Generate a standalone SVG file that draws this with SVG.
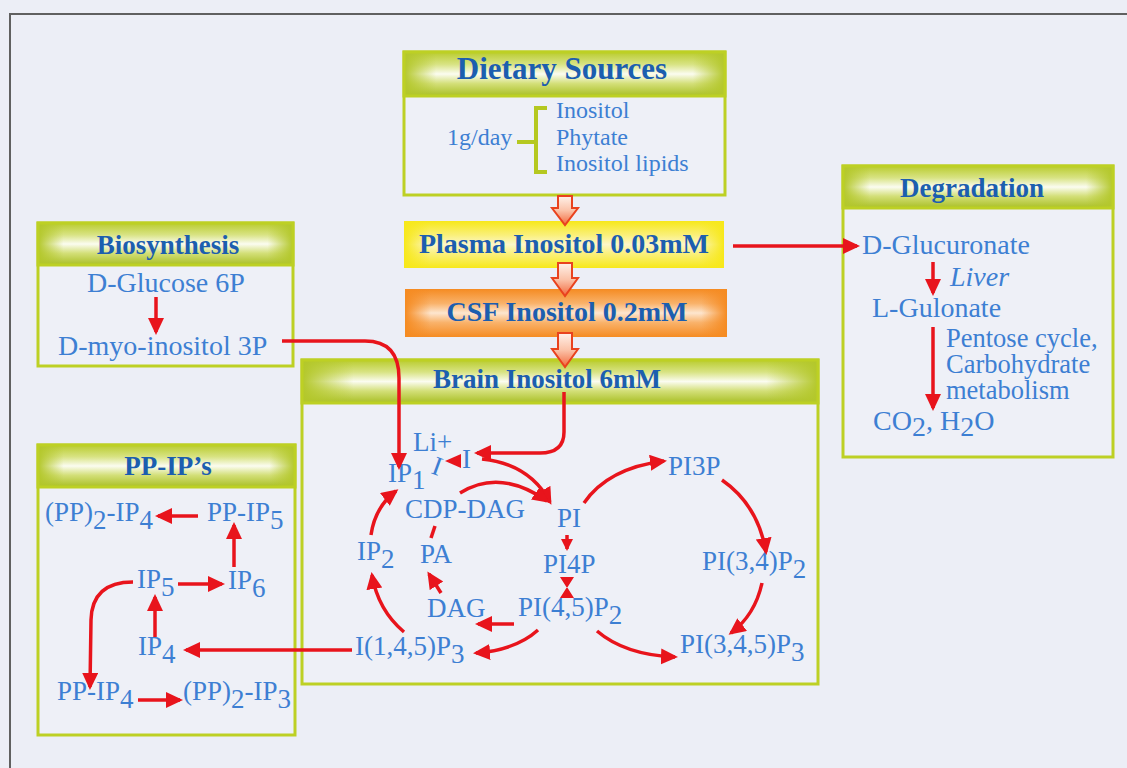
<svg xmlns="http://www.w3.org/2000/svg" width="1127" height="768" viewBox="0 0 1127 768">
<defs>
<style>
.t{font-family:"Liberation Serif","Times New Roman",serif;font-size:27px;fill:#3d7fd3}
.d{font-size:24px}
.b{font-size:28px}
.s{font-size:26.5px}
.i{font-style:italic}
.h{font-family:"Liberation Serif","Times New Roman",serif;font-weight:bold;font-size:27px;fill:#1c5eaf;text-anchor:middle}
.body{fill:#eef0f7;stroke:#bdd024;stroke-width:3}
.hdr{stroke:#bdd024;stroke-width:3}
.ln{fill:none;stroke:#e8141c;stroke-width:3.5}
.hol{fill:url(#hg);stroke:#e9421e;stroke-width:2}
</style>
<linearGradient id="hv" x1="0" y1="0" x2="0" y2="1">
<stop offset="0" stop-color="#b9cc2e"/><stop offset="0.28" stop-color="#d8e383"/><stop offset="0.5" stop-color="#fbfcf0"/><stop offset="0.72" stop-color="#d3df78"/><stop offset="1" stop-color="#a9bf25"/>
</linearGradient>
<linearGradient id="hh" x1="0" y1="0" x2="1" y2="0">
<stop offset="0" stop-color="#b3c72a" stop-opacity="1"/><stop offset="0.1" stop-color="#b3c72a" stop-opacity="0"/><stop offset="0.9" stop-color="#b3c72a" stop-opacity="0"/><stop offset="1" stop-color="#b3c72a" stop-opacity="1"/>
</linearGradient>
<linearGradient id="pv" x1="0" y1="0" x2="0" y2="1">
<stop offset="0" stop-color="#f7e81a"/><stop offset="0.3" stop-color="#faf07a"/><stop offset="0.5" stop-color="#fcf7c8"/><stop offset="0.7" stop-color="#faf07a"/><stop offset="1" stop-color="#f7e81a"/>
</linearGradient>
<linearGradient id="ph" x1="0" y1="0" x2="1" y2="0">
<stop offset="0" stop-color="#f7e81a" stop-opacity="1"/><stop offset="0.08" stop-color="#f7e81a" stop-opacity="0"/><stop offset="0.92" stop-color="#f7e81a" stop-opacity="0"/><stop offset="1" stop-color="#f7e81a" stop-opacity="1"/>
</linearGradient>
<linearGradient id="cv" x1="0" y1="0" x2="0" y2="1">
<stop offset="0" stop-color="#f58b22"/><stop offset="0.3" stop-color="#f9b26a"/><stop offset="0.5" stop-color="#fde6cf"/><stop offset="0.7" stop-color="#f9b26a"/><stop offset="1" stop-color="#f58b22"/>
</linearGradient>
<linearGradient id="ch" x1="0" y1="0" x2="1" y2="0">
<stop offset="0" stop-color="#f58b22" stop-opacity="1"/><stop offset="0.08" stop-color="#f58b22" stop-opacity="0"/><stop offset="0.92" stop-color="#f58b22" stop-opacity="0"/><stop offset="1" stop-color="#f58b22" stop-opacity="1"/>
</linearGradient>
<linearGradient id="hg" x1="0" y1="0" x2="0" y2="1">
<stop offset="0" stop-color="#fff2ea"/><stop offset="0.5" stop-color="#fbc2a8"/><stop offset="1" stop-color="#f2683c"/>
</linearGradient>
<marker id="ah" markerUnits="userSpaceOnUse" markerWidth="20" markerHeight="18" refX="14" refY="8" orient="auto">
<path d="M0,0 L17,8 L0,16 z" fill="#e8141c"/>
</marker>
<marker id="as" markerUnits="userSpaceOnUse" markerWidth="14" markerHeight="14" refX="10" refY="6" orient="auto">
<path d="M0,0 L12,6 L0,12 z" fill="#e8141c"/>
</marker>
</defs>

<rect x="0" y="0" width="1127" height="768" fill="#eceef6"/>
<path d="M10,768 V14 H1127" fill="none" stroke="#606060" stroke-width="2"/>

<g id="dietary">
<rect class="body" x="404" y="52" width="321" height="143"/>
<rect x="404" y="52" width="321" height="44" fill="url(#hv)"/>
<rect class="hdr" x="404" y="52" width="321" height="44" fill="url(#hh)"/>
<text class="h" x="562" y="79" style="font-size:31px">Dietary Sources</text>
<text class="t d" x="447" y="145">1g/day</text>
<path d="M517,142 H535 M547,108 H536 V172 H547" fill="none" stroke="#b5c820" stroke-width="4"/>
<text class="t d" x="556" y="118">Inositol</text>
<text class="t d" x="556" y="145">Phytate</text>
<text class="t d" x="556" y="171">Inositol lipids</text>
</g>

<g id="plasma">
<rect x="404" y="221" width="320" height="47" fill="url(#pv)"/>
<rect x="404" y="221" width="320" height="47" fill="url(#ph)"/>
<text class="h" x="564" y="253" style="font-size:28px">Plasma Inositol 0.03mM</text>
</g>

<g id="csf">
<rect x="405" y="289" width="322" height="48" fill="url(#cv)"/>
<rect x="405" y="289" width="322" height="48" fill="url(#ch)"/>
<text class="h" x="567" y="321" style="font-size:28px">CSF Inositol 0.2mM</text>
</g>

<g id="biosynthesis">
<rect class="body" x="38" y="223" width="255" height="143"/>
<rect x="38" y="223" width="255" height="42" fill="url(#hv)"/>
<rect class="hdr" x="38" y="223" width="255" height="42" fill="url(#hh)"/>
<text class="h" x="168" y="254">Biosynthesis</text>
<text class="t b" x="87" y="292">D-Glucose 6P</text>
<text class="t b" x="58" y="355">D-myo-inositol 3P</text>
</g>

<g id="degradation">
<rect class="body" x="843" y="166" width="270" height="291"/>
<rect x="843" y="166" width="270" height="42" fill="url(#hv)"/>
<rect class="hdr" x="843" y="166" width="270" height="42" fill="url(#hh)"/>
<text class="h" x="972" y="197">Degradation</text>
<text class="t b" x="862" y="254">D-Glucuronate</text>
<text class="t b i" x="950" y="286">Liver</text>
<text class="t b" x="872" y="317">L-Gulonate</text>
<text class="t s" x="946" y="347">Pentose cycle,</text>
<text class="t s" x="946" y="373">Carbohydrate</text>
<text class="t s" x="946" y="399">metabolism</text>
<text class="t b" x="873" y="430">CO<tspan dy="6">2</tspan><tspan dy="-6">, H</tspan><tspan dy="6">2</tspan><tspan dy="-6">O</tspan></text>
</g>

<g id="brain">
<rect class="body" x="302" y="360" width="516" height="324"/>
<rect x="302" y="360" width="516" height="43" fill="url(#hv)"/>
<rect class="hdr" x="302" y="360" width="516" height="43" fill="url(#hh)"/>
<text class="h" x="547" y="388">Brain Inositol 6mM</text>
<text class="t" x="413" y="451">Li+</text>
<text class="t" x="0" y="0" transform="translate(430,473) rotate(20)">I</text>
<text class="t" x="462" y="468">I</text>
<text class="t" x="388" y="482">IP<tspan dy="7">1</tspan></text>
<text class="t" x="405" y="518">CDP-DAG</text>
<text class="t" x="557" y="527">PI</text>
<text class="t" x="357" y="560">IP<tspan dy="8">2</tspan></text>
<text class="t" x="420" y="563">PA</text>
<text class="t" x="543" y="573">PI4P</text>
<text class="t" x="427" y="617">DAG</text>
<text class="t" x="518" y="616">PI(4,5)P<tspan dy="8">2</tspan></text>
<text class="t" x="355" y="655">I(1,4,5)P<tspan dy="8">3</tspan></text>
<text class="t" x="668" y="475">PI3P</text>
<text class="t" x="702" y="570">PI(3,4)P<tspan dy="8">2</tspan></text>
<text class="t" x="680" y="653">PI(3,4,5)P<tspan dy="8">3</tspan></text>
</g>

<g id="ppip">
<rect class="body" x="38" y="445" width="257" height="290"/>
<rect x="38" y="445" width="257" height="42" fill="url(#hv)"/>
<rect class="hdr" x="38" y="445" width="257" height="42" fill="url(#hh)"/>
<text class="h" x="168" y="475">PP-IP’s</text>
<text class="t" x="45" y="521">(PP)<tspan dy="8">2</tspan><tspan dy="-8">-IP</tspan><tspan dy="8">4</tspan></text>
<text class="t" x="207" y="521">PP-IP<tspan dy="8">5</tspan></text>
<text class="t" x="137" y="588">IP<tspan dy="8">5</tspan></text>
<text class="t" x="228" y="589">IP<tspan dy="8">6</tspan></text>
<text class="t" x="138" y="655">IP<tspan dy="8">4</tspan></text>
<text class="t" x="57" y="700">PP-IP<tspan dy="8">4</tspan></text>
<text class="t" x="183" y="700">(PP)<tspan dy="8">2</tspan><tspan dy="-8">-IP</tspan><tspan dy="8">3</tspan></text>
</g>

<g id="connectors">
<path class="hol" d="M558,196 H572 V208 H578 L565,225 L552,208 H558 Z"/>
<path class="hol" d="M558,263 H572 V278 H578 L565,296 L552,278 H558 Z"/>
<path class="hol" d="M558,333 H572 V349 H578 L565,367 L552,349 H558 Z"/>
<path class="ln" d="M733,246 H857" marker-end="url(#ah)"/>
<path class="ln" d="M933,262 V293" marker-end="url(#ah)"/>
<path class="ln" d="M933,327 V408" marker-end="url(#ah)"/>
<path class="ln" d="M156,297 V332" marker-end="url(#ah)"/>
<path class="ln" d="M282,341 H365 Q399,341 399,378 V467" marker-end="url(#ah)"/>
<path class="ln" d="M564,392 V432 Q564,453 540,453 H477" marker-end="url(#ah)"/>
<path d="M445,461 L461,454 L461,468 Z" fill="#e8141c"/>
<path class="ln" d="M482,459 C512,462 536,476 550,502" marker-end="url(#ah)"/>
<path class="ln" d="M460,493 Q500,468 547,501" marker-end="url(#ah)"/>
<path class="ln" d="M371,535 Q375,507 396,491" marker-end="url(#ah)"/>
<path class="ln" d="M404,632 Q378,610 372,575" marker-end="url(#ah)"/>
<path class="ln" d="M431,538 L435,526"/>
<path class="ln" d="M441,593 L429,574" marker-end="url(#ah)"/>
<path class="ln" d="M514,624 L478,624" marker-end="url(#ah)"/>
<path class="ln" d="M538,630 Q516,650 476,653" marker-end="url(#ah)"/>
<path class="ln" d="M567,535 V549" marker-end="url(#as)"/>
<path d="M560,577 L574,577 L567,588 Z M560,598 L574,598 L567,587 Z" fill="#e8141c"/>
<path class="ln" d="M584,503 Q608,468 664,461" marker-end="url(#ah)"/>
<path class="ln" d="M722,480 Q758,505 766,552" marker-end="url(#ah)"/>
<path class="ln" d="M762,583 Q755,615 731,633" marker-end="url(#ah)"/>
<path class="ln" d="M597,631 Q625,655 675,657" marker-end="url(#ah)"/>
<path class="ln" d="M352,650 H186" marker-end="url(#ah)"/>
<path class="ln" d="M198,516 H158" marker-end="url(#ah)"/>
<path class="ln" d="M234,567 V525" marker-end="url(#ah)"/>
<path class="ln" d="M178,584 H222" marker-end="url(#ah)"/>
<path class="ln" d="M155,637 V597" marker-end="url(#ah)"/>
<path class="ln" d="M133,582 Q92,582 91,620 L90,687" marker-end="url(#ah)"/>
<path class="ln" d="M138,700 H180" marker-end="url(#ah)"/>
</g>
</svg>
